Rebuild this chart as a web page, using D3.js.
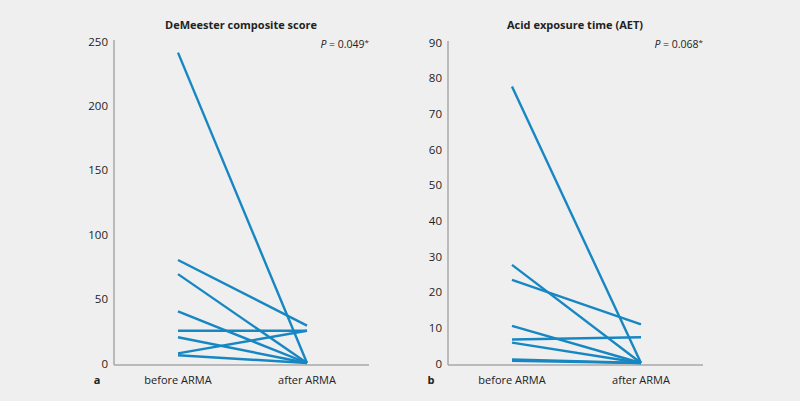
<!DOCTYPE html>
<html>
<head>
<meta charset="utf-8">
<script src="https://cdn.jsdelivr.net/npm/d3@7"></script>
<style>
  body { margin: 0; background: #efefef; }
  svg { display: block; font-family: "Open Sans", "Noto Sans", sans-serif; }
</style>
</head>
<body>
<div id="vis"></div>
<script>
var width = 800,
	height = 401;

// paired values, before ARMA -> after ARMA
var groups = ["before ARMA", "after ARMA"];

var demBefore = [241, 80, 69, 40, 25, 20, 7.5, 6];
var demAfter  = [0, 29, 0, 0, 25, 0, 25, 0];
var demTicks  = [0, 50, 100, 150, 200, 250];

var aetBefore = [77.5, 27.5, 23.3, 10.4, 6.6, 5.7, 1.0, 0.6];
var aetAfter  = [0, 0, 10.8, 0, 7.2, 0, 0, 0];
var aetTicks  = [0, 10, 20, 30, 40, 50, 60, 70, 80, 90];

var lineColor = "#1787c3",
	axisColor = "#a9a9a9";

var svg = d3.select("#vis")
	.append("svg")
	.attr("width", width)
	.attr("height", height);

svg.append("rect")
	.attr("width", width)
	.attr("height", height)
	.attr("fill", "#efefef");

function drawPanel(opt) {
	var g = svg.append("g");

	var x = d3.scalePoint()
		.domain(groups)
		.range([opt.x0 + 64, opt.x1 - 62]);

	var y = d3.scaleLinear()
		.domain([0, opt.max])
		.range([363, opt.top]);

	// y axis
	var yAxis = d3.axisLeft(y)
		.tickValues(opt.ticks)
		.tickSize(0)
		.tickPadding(6);

	var ya = g.append("g")
		.attr("transform", "translate(" + opt.x0 + ",0)")
		.call(yAxis)
		.attr("font-family", null)
		.attr("font-size", null);
	ya.select(".domain").remove();
	ya.selectAll("text")
		.style("font-size", "11.5px")
		.style("fill", "#222")
		.attr("dy", "0.35em");

	g.append("line")
		.attr("x1", opt.x0).attr("x2", opt.x0)
		.attr("y1", opt.top - 1).attr("y2", 365)
		.attr("stroke", axisColor)
		.attr("stroke-width", 1.5);

	g.append("line")
		.attr("x1", opt.x0).attr("x2", opt.x1)
		.attr("y1", 365).attr("y2", 365)
		.attr("stroke", axisColor)
		.attr("stroke-width", 1.5);

	// x labels
	g.selectAll("text.grp")
		.data(groups)
		.enter()
		.append("text")
		.attr("class", "grp")
		.attr("x", function(d) { return x(d); })
		.attr("y", 380)
		.attr("text-anchor", "middle")
		.attr("dy", "0.35em")
		.style("font-size", "11px")
		.style("fill", "#222")
		.text(function(d) { return d; });

	g.append("text")
		.attr("x", opt.x0 - 17)
		.attr("y", 380)
		.attr("dy", "0.35em")
		.attr("text-anchor", "middle")
		.style("font-size", "11px")
		.style("font-weight", "bold")
		.style("fill", "#222")
		.text(opt.letter);

	// title
	g.append("text")
		.attr("x", opt.titleX)
		.attr("y", 25)
		.attr("text-anchor", "middle")
		.attr("dy", "0.35em")
		.style("font-size", "11px")
		.style("font-weight", "bold")
		.style("fill", "#222")
		.text(opt.title);

	var p = g.append("text")
		.attr("x", opt.x1)
		.attr("y", 44)
		.attr("text-anchor", "end")
		.attr("dy", "0.35em")
		.style("font-size", "10.5px")
		.style("fill", "#222");
	p.append("tspan").style("font-style", "italic").text("P");
	p.append("tspan").text(" = " + opt.p);
	p.append("tspan").attr("dy", "-0.3em").style("font-size", "8px").text("*");

	// paired lines
	g.selectAll("line.pair")
		.data(opt.before)
		.enter()
		.append("line")
		.attr("class", "pair")
		.attr("x1", x(groups[0]))
		.attr("x2", x(groups[1]))
		.attr("y1", function(d) { return y(d); })
		.attr("y2", function(d, i) { return y(opt.after[i]); })
		.attr("stroke", lineColor)
		.attr("stroke-width", 2.4);
}

drawPanel({
	x0: 114, x1: 369, top: 41, max: 250,
	ticks: demTicks, before: demBefore, after: demAfter,
	title: "DeMeester composite score", titleX: 241,
	p: "0.049", letter: "a"
});

drawPanel({
	x0: 448, x1: 703, top: 42, max: 90,
	ticks: aetTicks, before: aetBefore, after: aetAfter,
	title: "Acid exposure time (AET)", titleX: 575,
	p: "0.068", letter: "b"
});
</script>
</body>
</html>
